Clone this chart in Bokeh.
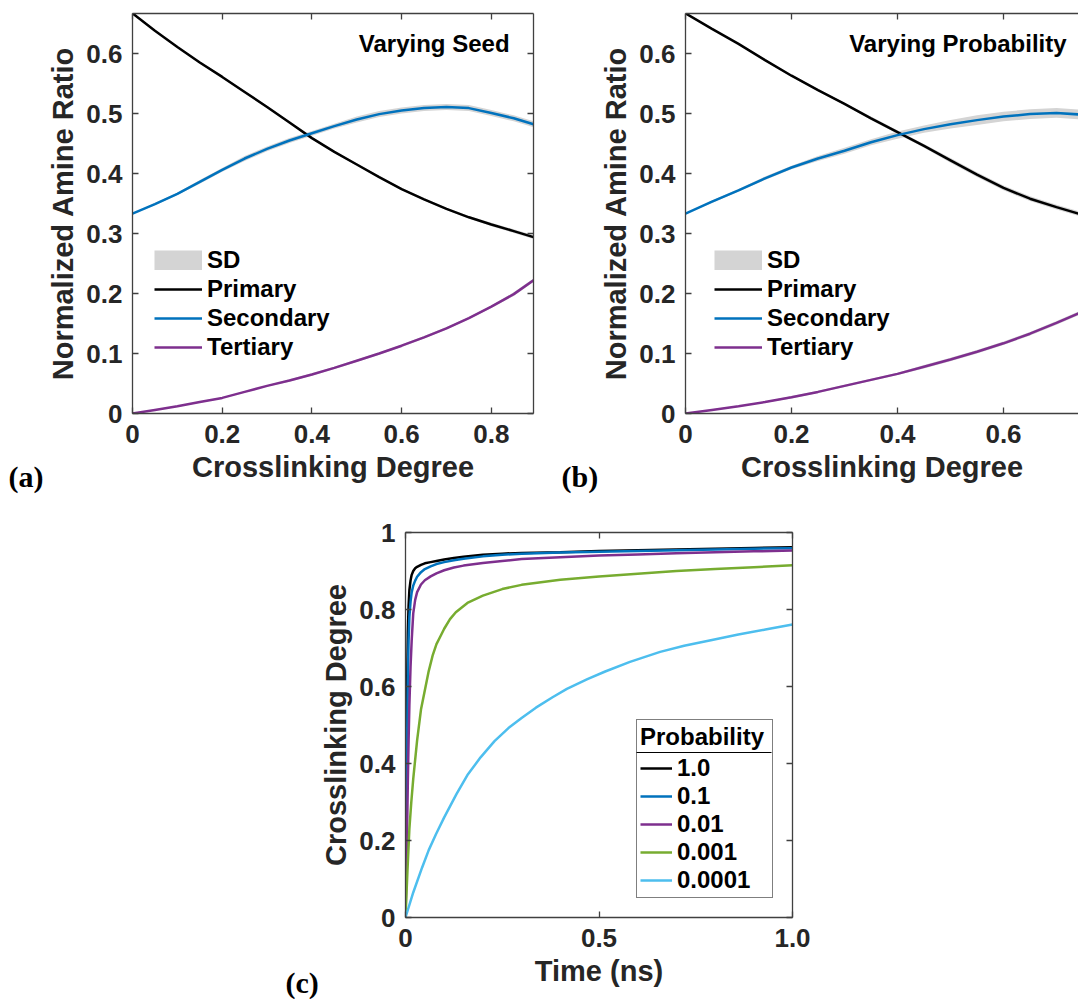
from bokeh.plotting import figure
from bokeh.models import (Range1d, LinearAxis, FixedTicker, Legend, LegendItem,
                          Label, Arrow, Title)
from bokeh.layouts import column, row
from bokeh.embed import file_html
from bokeh.resources import INLINE

# ---------------- data ----------------
# Panel (a): varying seed
x_a = [0, 0.05, 0.1, 0.15, 0.2, 0.25, 0.3, 0.35, 0.4, 0.45, 0.5, 0.55, 0.6,
       0.65, 0.7, 0.75, 0.8, 0.85, 0.894]
primary_a = [0.667, 0.638, 0.611, 0.585, 0.561, 0.536, 0.511, 0.485, 0.459,
             0.436, 0.415, 0.394, 0.374, 0.357, 0.341, 0.327, 0.315, 0.304, 0.294]
secondary_a = [0.333, 0.349, 0.366, 0.386, 0.406, 0.425, 0.441, 0.455, 0.467,
               0.479, 0.490, 0.499, 0.505, 0.509, 0.511, 0.509, 0.501, 0.492, 0.482]
tertiary_a = [0.0, 0.006, 0.012, 0.019, 0.026, 0.036, 0.046, 0.055, 0.065,
              0.076, 0.088, 0.100, 0.113, 0.127, 0.142, 0.159, 0.178, 0.199, 0.222]
sd_primary_a = [0.0, 0.001, 0.001, 0.002, 0.002, 0.002, 0.002, 0.002, 0.002,
                0.002, 0.002, 0.002, 0.002, 0.002, 0.002, 0.002, 0.003, 0.003, 0.003]
sd_secondary_a = [0.0, 0.002, 0.002, 0.003, 0.003, 0.004, 0.004, 0.004, 0.004,
                  0.004, 0.005, 0.005, 0.005, 0.005, 0.005, 0.005, 0.005, 0.005, 0.005]
sd_tertiary_a = [0.0, 0.001, 0.001, 0.001, 0.001, 0.001, 0.001, 0.002, 0.002,
                 0.002, 0.002, 0.002, 0.002, 0.002, 0.002, 0.002, 0.002, 0.003, 0.003]

# Panel (b): varying probability
x_b = [0, 0.05, 0.1, 0.15, 0.2, 0.25, 0.3, 0.35, 0.4, 0.45, 0.5, 0.55, 0.6,
       0.65, 0.7, 0.75, 0.8]
primary_b = [0.667, 0.641, 0.616, 0.589, 0.563, 0.539, 0.516, 0.492, 0.469,
             0.446, 0.422, 0.398, 0.376, 0.358, 0.344, 0.331, 0.320]
secondary_b = [0.333, 0.353, 0.372, 0.392, 0.410, 0.425, 0.438, 0.452, 0.464,
               0.474, 0.482, 0.489, 0.495, 0.499, 0.501, 0.498, 0.494]
tertiary_b = [0.0, 0.006, 0.012, 0.019, 0.027, 0.036, 0.046, 0.056, 0.066,
              0.078, 0.090, 0.103, 0.117, 0.133, 0.151, 0.170, 0.190]
sd_primary_b = [0.0, 0.001, 0.001, 0.002, 0.002, 0.002, 0.002, 0.003, 0.003,
                0.003, 0.004, 0.004, 0.004, 0.004, 0.004, 0.004, 0.004]
sd_secondary_b = [0.0, 0.002, 0.002, 0.003, 0.003, 0.004, 0.005, 0.005, 0.006,
                  0.006, 0.007, 0.008, 0.008, 0.008, 0.008, 0.008, 0.008]
sd_tertiary_b = [0.0, 0.001, 0.001, 0.001, 0.002, 0.002, 0.002, 0.002, 0.002,
                 0.003, 0.003, 0.003, 0.003, 0.003, 0.003, 0.003, 0.003]

# Panel (c): crosslinking degree vs time for each probability
prob_labels = ["1.0", "0.1", "0.01", "0.001", "0.0001"]
t_fast = [0, 0.002, 0.004, 0.006, 0.008, 0.01, 0.013, 0.016, 0.02, 0.025,
          0.03, 0.04, 0.05, 0.065, 0.08, 0.1, 0.125, 0.15, 0.2, 0.25, 0.3,
          0.4, 0.5, 0.6, 0.7, 0.8, 0.9, 1.0]
cd_p1 = [0, 0.32, 0.58, 0.74, 0.81, 0.85, 0.875, 0.89, 0.900, 0.907, 0.911,
         0.916, 0.920, 0.923, 0.926, 0.930, 0.934, 0.937, 0.942, 0.945, 0.947,
         0.949, 0.952, 0.954, 0.956, 0.958, 0.960, 0.962]
cd_p01 = [0, 0.22, 0.44, 0.62, 0.72, 0.78, 0.82, 0.845, 0.862, 0.875, 0.885,
          0.897, 0.905, 0.912, 0.918, 0.923, 0.928, 0.932, 0.938, 0.942, 0.945,
          0.948, 0.950, 0.952, 0.954, 0.956, 0.958, 0.959]
cd_p001 = [0, 0.10, 0.22, 0.35, 0.46, 0.55, 0.65, 0.72, 0.79, 0.825, 0.845,
           0.865, 0.876, 0.886, 0.894, 0.902, 0.909, 0.914, 0.921, 0.926, 0.931,
           0.936, 0.940, 0.943, 0.946, 0.949, 0.951, 0.953]
t_p0001 = [0, 0.005, 0.01, 0.015, 0.02, 0.025, 0.03, 0.04, 0.05, 0.06, 0.07,
           0.08, 0.09, 0.1, 0.115, 0.13, 0.16, 0.2, 0.25, 0.3, 0.4, 0.5, 0.6,
           0.7, 0.8, 0.9, 1.0]
cd_p0001 = [0, 0.12, 0.23, 0.30, 0.36, 0.41, 0.46, 0.54, 0.59, 0.64, 0.68,
            0.71, 0.73, 0.75, 0.775, 0.793, 0.817, 0.836, 0.853, 0.864, 0.877,
            0.886, 0.893, 0.900, 0.905, 0.910, 0.915]
t_p00001 = [0, 0.02, 0.043, 0.06, 0.079, 0.1, 0.132, 0.16, 0.194, 0.23, 0.266,
            0.3, 0.337, 0.38, 0.417, 0.47, 0.516, 0.58, 0.658, 0.72, 0.792,
            0.86, 0.93, 1.0]
cd_p00001 = [0, 0.065, 0.13, 0.175, 0.217, 0.26, 0.321, 0.37, 0.416, 0.458,
             0.492, 0.518, 0.545, 0.572, 0.594, 0.619, 0.639, 0.664, 0.690, 0.706,
             0.721, 0.735, 0.748, 0.761]

# tick labels
ticks_ab_x = [0, 0.2, 0.4, 0.6, 0.8]
ticks_ab_y = [0, 0.1, 0.2, 0.3, 0.4, 0.5, 0.6]
ticks_c_x = [0, 0.5, 1.0]
ticks_c_y = [0, 0.2, 0.4, 0.6, 0.8, 1.0]
labels_ab_x = {0: "0", 0.2: "0.2", 0.4: "0.4", 0.6: "0.6", 0.8: "0.8"}
labels_ab_y = {0: "0", 0.1: "0.1", 0.2: "0.2", 0.3: "0.3", 0.4: "0.4",
               0.5: "0.5", 0.6: "0.6"}
labels_c_x = {0: "0", 0.5: "0.5", 1.0: "1.0"}
labels_c_y = {0: "0", 0.2: "0.2", 0.4: "0.4", 0.6: "0.6", 0.8: "0.8", 1.0: "1"}

# ---------------- style ----------------
FONT = "Liberation Sans"
TXT = "#262626"
AX = "#404040"
C_BLACK = "#000000"
C_BLUE = "#0072BD"
C_PURPLE = "#7E2F8E"
C_GREEN = "#77AC30"
C_LBLUE = "#4DBEEE"
C_SD = "#d4d4d4"


def style_axis(ax, ticks, overrides, labels=True):
    ax.ticker = FixedTicker(ticks=ticks)
    ax.axis_line_color = AX
    ax.axis_line_width = 1.3
    ax.major_tick_line_color = AX
    ax.major_tick_line_width = 1.3
    ax.major_tick_in = 6
    ax.major_tick_out = 0
    ax.minor_tick_line_color = None
    if labels:
        ax.major_label_overrides = overrides
        ax.major_label_text_font = FONT
        ax.major_label_text_font_style = "bold"
        ax.major_label_text_font_size = "26px"
        ax.major_label_text_color = TXT
        ax.axis_label_text_font = FONT
        ax.axis_label_text_font_style = "bold"
        ax.axis_label_text_font_size = "29px"
        ax.axis_label_text_color = TXT
    else:
        ax.major_label_text_color = None
        ax.major_label_standoff = 0


def make_fig(fw, fh, bl, br, bt, bb, xr, yr):
    p = figure(frame_width=fw, frame_height=fh, min_border_left=bl,
               min_border_right=br, min_border_top=bt, min_border_bottom=bb,
               x_range=Range1d(*xr), y_range=Range1d(*yr),
               output_backend="svg", toolbar_location=None,
               background_fill_color="white", border_fill_color="white")
    p.grid.visible = False
    p.outline_line_color = None
    return p


def add_frame_axes(p, xt, yt, right=True):
    top = LinearAxis()
    style_axis(top, xt, {}, labels=False)
    p.add_layout(top, "above")
    if right:
        r = LinearAxis()
        style_axis(r, yt, {}, labels=False)
        p.add_layout(r, "right")


def panel_letter(p, text, offset, standoff):
    p.add_layout(Title(text=text, align="left", vertical_align="top",
                       offset=offset, standoff=standoff,
                       text_font="Liberation Serif", text_font_style="bold",
                       text_font_size="30px", text_color="#000000"), "below")


def amine_panel(x, prim, sec, ter, sdp, sds, sdt, xr, fw, bl, br, title,
                title_x, legend_x):
    p = make_fig(fw, 400, bl, br, 13, 87, xr, (0, 0.6667))
    style_axis(p.xaxis[0], ticks_ab_x, labels_ab_x)
    style_axis(p.yaxis[0], ticks_ab_y, labels_ab_y)
    p.xaxis[0].axis_label = "Crosslinking Degree"
    p.yaxis[0].axis_label = "Normalized Amine Ratio"
    p.xaxis[0].major_label_standoff = 11
    p.yaxis[0].major_label_standoff = 10
    p.xaxis[0].axis_label_standoff = 5
    p.yaxis[0].axis_label_standoff = 4
    add_frame_axes(p, ticks_ab_x, ticks_ab_y, right=(br > 0))

    for y, sd in ((prim, sdp), (sec, sds), (ter, sdt)):
        lo = [a - b for a, b in zip(y, sd)]
        hi = [a + b for a, b in zip(y, sd)]
        p.varea(x=x, y1=lo, y2=hi, fill_color=C_SD, fill_alpha=1.0)
    # legend swatch for the SD band (single point: draws nothing in the plot)
    sd_key = p.line(x=[x[0]], y=[sec[0]], line_color=C_SD, line_width=20,
                    line_cap="butt")
    r1 = p.line(x, prim, line_color=C_BLACK, line_width=2.5)
    r2 = p.line(x, sec, line_color=C_BLUE, line_width=2.5)
    r3 = p.line(x, ter, line_color=C_PURPLE, line_width=2.5)

    leg = Legend(items=[LegendItem(label="SD", renderers=[sd_key]),
                        LegendItem(label="Primary", renderers=[r1]),
                        LegendItem(label="Secondary", renderers=[r2]),
                        LegendItem(label="Tertiary", renderers=[r3])],
                 location=(legend_x, 52))
    leg.padding = 0
    leg.margin = 0
    leg.spacing = 1
    leg.glyph_width = 48
    leg.glyph_height = 20
    leg.label_height = 20
    leg.label_standoff = 5
    leg.background_fill_alpha = 0
    leg.border_line_color = None
    leg.label_text_font = FONT
    leg.label_text_font_style = "bold"
    leg.label_text_font_size = "24px"
    leg.label_text_color = "#000000"
    p.add_layout(leg)

    p.add_layout(Label(x=title_x, y=0.617, text=title, text_align="right",
                       text_baseline="middle", text_font=FONT,
                       text_font_style="bold", text_font_size="24px",
                       text_color="#000000"))
    return p


pa = amine_panel(x_a, primary_a, secondary_a, tertiary_a, sd_primary_a,
                 sd_secondary_a, sd_tertiary_a, (0, 0.894), 401, 132, 7,
                 "Varying Seed", 0.8406, 22)
pb = amine_panel(x_b, primary_b, secondary_b, tertiary_b, sd_primary_b,
                 sd_secondary_b, sd_tertiary_b, (0, 0.7415), 393, 145, 0,
                 "Varying Probability", 0.719, 29)
panel_letter(pa, "(a)", -124, -52)
panel_letter(pb, "(b)", -124, -52)

# ---------------- panel c ----------------
pc = make_fig(387, 385, 405, 286, 32, 82, (0, 1.0), (0, 1.0))
style_axis(pc.xaxis[0], ticks_c_x, labels_c_x)
style_axis(pc.yaxis[0], ticks_c_y, labels_c_y)
pc.xaxis[0].axis_label = "Time (ns)"
pc.yaxis[0].axis_label = "Crosslinking Degree"
pc.xaxis[0].major_label_standoff = 11
pc.yaxis[0].major_label_standoff = 10
pc.xaxis[0].axis_label_standoff = 5
pc.yaxis[0].axis_label_standoff = 4
add_frame_axes(pc, ticks_c_x, ticks_c_y)

series_c = [(t_fast, cd_p1, C_BLACK), (t_fast, cd_p01, C_BLUE),
            (t_fast, cd_p001, C_PURPLE), (t_p0001, cd_p0001, C_GREEN),
            (t_p00001, cd_p00001, C_LBLUE)]
items = []
for lab, (tx, cy, col) in zip(prob_labels, series_c):
    r = pc.line(tx, cy, line_color=col, line_width=2.5)
    items.append(LegendItem(label=lab, renderers=[r]))

legc = Legend(items=items, location=(231, 19), title="Probability")
legc.padding = 3
legc.margin = 0
legc.spacing = 0
legc.glyph_width = 32
legc.glyph_height = 20
legc.label_height = 20
legc.label_width = 92
legc.label_standoff = 5
legc.title_standoff = 3
legc.border_line_color = "#000000"
legc.border_line_width = 1.2
legc.background_fill_alpha = 0
legc.label_text_font = FONT
legc.label_text_font_style = "bold"
legc.label_text_font_size = "24px"
legc.label_text_color = "#000000"
legc.title_text_font = FONT
legc.title_text_font_style = "bold"
legc.title_text_font_size = "24px"
legc.title_text_color = "#000000"
pc.add_layout(legc)

# separator under the legend title
pc.add_layout(Arrow(end=None, x_start=0.597, y_start=0.4286, x_end=0.9457,
                    y_end=0.4286, line_color="#000000", line_width=1.2))

panel_letter(pc, "(c)", -120, -48)

layout = column(row(pa, pb), pc)
open("out.html", "w").write(file_html(layout, INLINE))
